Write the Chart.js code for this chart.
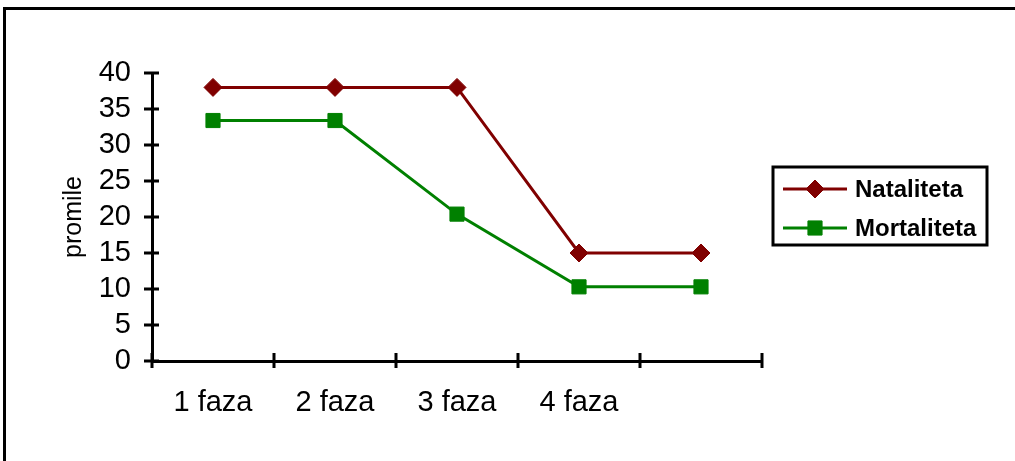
<!DOCTYPE html>
<html>
<head>
<meta charset="utf-8">
<script src="https://cdn.jsdelivr.net/npm/chart.js@4.4.0/dist/chart.umd.min.js"></script>
<style>
  html, body { margin: 0; padding: 0; background: #fff; overflow: hidden; }
  #wrap { position: relative; width: 1015px; height: 461px; }
  #frame { position: absolute; left: 3px; top: 7px; width: 1100px; height: 600px;
           border-top: 3px solid #000; border-left: 3px solid #000; }
  canvas { position: absolute; left: 0; top: 0; }
</style>
</head>
<body>
<div id="wrap">
  <div id="frame"></div>
  <canvas id="chart" width="1015" height="461"></canvas>
</div>
<script>
// podaci
const faze = ['1 faza', '2 faza', '3 faza', '4 faza', ''];
const natalitet = [38, 38, 38, 15, 15];
const mortalitet = [33.4, 33.4, 20.4, 10.3, 10.3];
const yTicks = [0, 5, 10, 15, 20, 25, 30, 35, 40];

const FONT = '"Liberation Sans", Arial, sans-serif';

// crtice koje presijecaju osi (kao u Excelu)
const crossTicks = {
  id: 'crossTicks',
  afterDatasetsDraw(chart) {
    const ctx = chart.ctx;
    const x = chart.scales.x, y = chart.scales.y;
    ctx.save();
    ctx.strokeStyle = '#000';
    ctx.lineWidth = 3;
    ctx.beginPath();
    yTicks.forEach(v => {
      const py = y.getPixelForValue(v);
      ctx.moveTo(x.left - 8, py);
      ctx.lineTo(x.left + 7, py);
    });
    for (let i = 0; i <= faze.length; i++) {
      const px = x.getPixelForValue(i - 0.5);
      ctx.moveTo(px, y.bottom - 8);
      ctx.lineTo(px, y.bottom + 7);
    }
    ctx.stroke();
    ctx.restore();
  }
};

// legenda s okvirom
const boxLegend = {
  id: 'boxLegend',
  afterDraw(chart) {
    const ctx = chart.ctx;
    ctx.save();
    ctx.strokeStyle = '#000';
    ctx.lineWidth = 3;
    ctx.strokeRect(773, 167, 214, 78);
    const rows = [189, 228];
    chart.data.datasets.forEach((ds, i) => {
      const yy = rows[i];
      ctx.strokeStyle = ds.borderColor;
      ctx.lineWidth = ds.borderWidth;
      ctx.beginPath();
      ctx.moveTo(783, yy);
      ctx.lineTo(847, yy);
      ctx.stroke();
      ctx.fillStyle = ds.pointBackgroundColor;
      ctx.strokeStyle = ds.pointBorderColor;
      ctx.lineWidth = 1;
      Chart.helpers.drawPoint(ctx, {
        pointStyle: ds.pointStyle,
        radius: ds.pointRadius,
        borderWidth: 1
      }, 815, yy);
      ctx.fillStyle = '#000';
      ctx.font = 'bold 24px ' + FONT;
      ctx.textBaseline = 'middle';
      ctx.textAlign = 'left';
      ctx.fillText(ds.label, 855, yy + 1);
    });
    ctx.restore();
  }
};

new Chart(document.getElementById('chart'), {
  type: 'line',
  data: {
    labels: faze,
    datasets: [
      {
        label: 'Nataliteta',
        data: natalitet,
        borderColor: '#800000',
        borderWidth: 3,
        pointStyle: 'rectRot',
        pointRadius: 9,
        pointBackgroundColor: '#800000',
        pointBorderColor: '#800000',
        pointBorderWidth: 1,
        tension: 0,
        clip: false
      },
      {
        label: 'Mortaliteta',
        data: mortalitet,
        borderColor: '#008000',
        borderWidth: 3,
        pointStyle: 'rect',
        pointRadius: 10,
        pointBackgroundColor: '#008000',
        pointBorderColor: '#008000',
        pointBorderWidth: 1,
        tension: 0,
        clip: false
      }
    ]
  },
  options: {
    responsive: false,
    animation: false,
    layout: { padding: { left: 0, top: 73, right: 253, bottom: 0 } },
    plugins: {
      legend: { display: false },
      tooltip: { enabled: false }
    },
    scales: {
      x: {
        offset: true,
        grid: { display: false, drawTicks: false, offset: true },
        border: { display: true, color: '#000', width: 3 },
        ticks: {
          color: '#000',
          font: { family: FONT, size: 29 },
          padding: 25,
          maxRotation: 0,
          autoSkip: false
        },
        afterFit(scale) { scale.height = 100; }
      },
      y: {
        min: 0,
        max: 40,
        grid: { display: false, drawTicks: false },
        border: { display: true, color: '#000', width: 3 },
        afterBuildTicks(scale) { scale.ticks = yTicks.map(v => ({ value: v })); },
        ticks: {
          color: '#000',
          font: { family: FONT, size: 29 },
          padding: 21,
          autoSkip: false
        },
        title: {
          display: true,
          text: 'promile',
          color: '#000',
          font: { family: FONT, size: 25 },
          padding: { top: 59, bottom: 0 }
        },
        afterFit(scale) { scale.width = 152; }
      }
    }
  },
  plugins: [crossTicks, boxLegend]
});
</script>
</body>
</html>
